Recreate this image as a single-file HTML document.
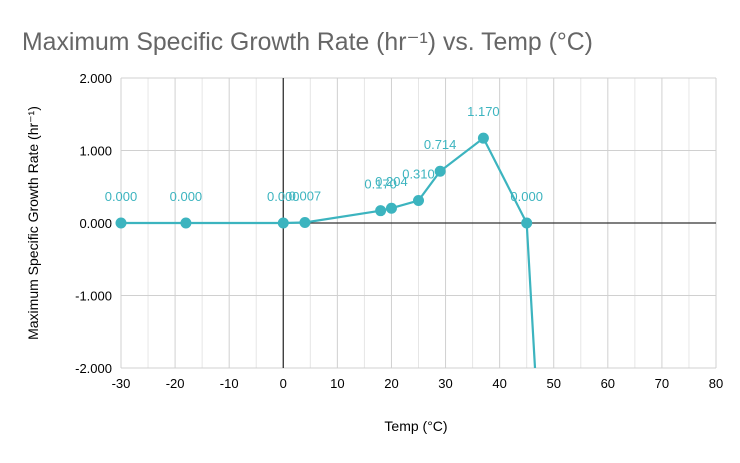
<!DOCTYPE html>
<html><head><meta charset="utf-8"><style>
body{margin:0;background:#fff;font-family:"Liberation Sans","DejaVu Sans",sans-serif}
</style></head><body>
<svg width="740" height="458" xmlns="http://www.w3.org/2000/svg">
<text x="22" y="50" font-size="24.8" fill="#666">Maximum Specific Growth Rate (hr⁻¹) vs. Temp (°C)</text>
<g id="grid"></g>
<g id="axes"></g>
<defs><clipPath id="pc"><rect x="110" y="78" width="620" height="290"/></clipPath></defs>
<g id="series" clip-path="url(#pc)"></g>
<g id="labels"></g>
<text x="416" y="431" font-size="14" text-anchor="middle" fill="#000">Temp (°C)</text>
<text transform="translate(38,223) rotate(-90)" font-size="14" text-anchor="middle" fill="#000">Maximum Specific Growth Rate (hr⁻¹)</text>
</svg>
<script>
const temps=[-30,-18,0,4,18,20,25,29,37,45,47];
const rates=[0,0,0,0.007,0.17,0.204,0.31,0.714,1.17,0,-2.6];
const pointLabels=["0.000","0.000","0.000","0.007","0.170","0.204","0.310","0.714","1.170","0.000",""];
const xTicks=[-30,-20,-10,0,10,20,30,40,50,60,70,80];
const yTicks=[2,1,0,-1,-2];
const NS="http://www.w3.org/2000/svg";
const X=v=>121+(v+30)*595/110, Y=v=>223-v*72.5;
function mk(t,a,p){const e=document.createElementNS(NS,t);for(const k in a)e.setAttribute(k,a[k]);document.getElementById(p).appendChild(e);return e;}
for(let v=-30;v<=80;v+=5){const l=mk('line',{x1:X(v),x2:X(v),y1:78,y2:368,stroke:v%10?'#e6e6e6':'#d0d0d0','stroke-width':1},'grid');

}
yTicks.forEach(v=>{const l=mk('line',{x1:121,x2:716,y1:Y(v),y2:Y(v),stroke:v===0?'#333':'#d0d0d0','stroke-width':v===0?1.3:1},'grid');


const t=mk('text',{x:112,y:Y(v)+5,'font-size':13,'text-anchor':'end',fill:'#000'},'axes');t.textContent=v.toFixed(3);

});
const ya=mk('line',{x1:X(0),x2:X(0),y1:78,y2:368,stroke:'#333','stroke-width':1.3},'axes');


xTicks.forEach(v=>{const t=mk('text',{x:X(v),y:388,'font-size':13,'text-anchor':'middle',fill:'#000'},'axes');t.textContent=v;

});
const pl=mk('polyline',{points:temps.map((t,i)=>X(t)+','+Y(rates[i])).join(' '),fill:'none',stroke:'#3cb4bf','stroke-width':2.2},'series');


temps.forEach((t,i)=>{const c=mk('circle',{cx:X(t),cy:Y(rates[i]),r:5.5,fill:'#3cb4bf'},'series');


if(pointLabels[i]){const tx=mk('text',{x:X(t),y:Y(rates[i])-22,'font-size':13,'text-anchor':'middle',fill:'#3cb4bf'},'labels');tx.textContent=pointLabels[i];

}});
</script>
</body></html>
